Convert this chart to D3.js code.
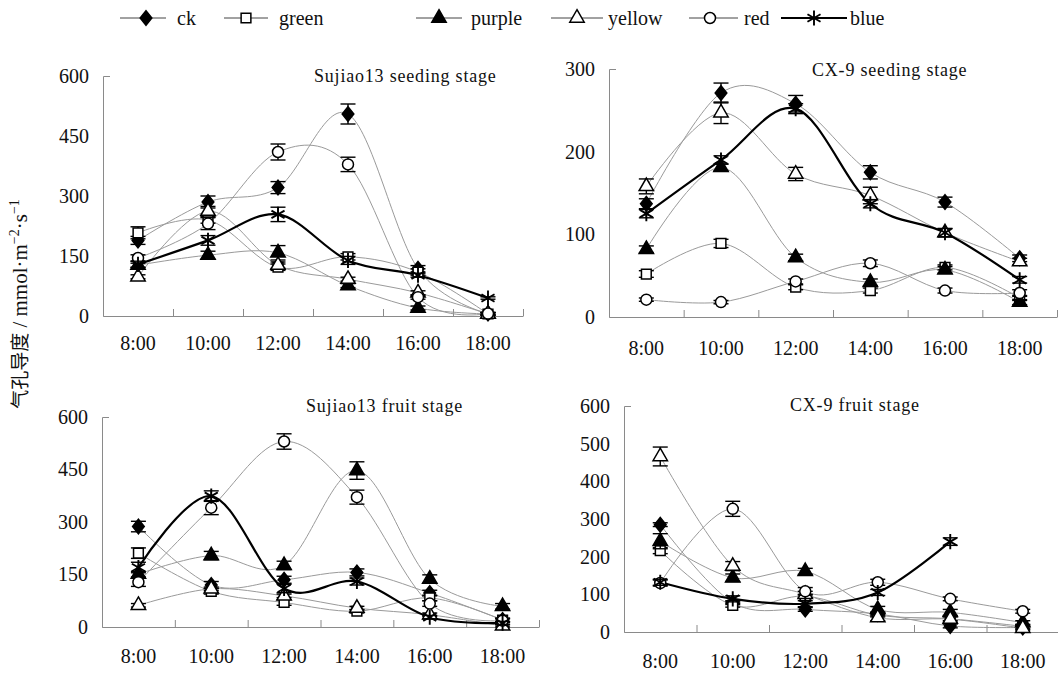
<!DOCTYPE html>
<html>
<head>
<meta charset="utf-8">
<script src="https://cdn.jsdelivr.net/npm/d3@7/dist/d3.min.js"></script>
<style>
body{margin:0;background:#fff}
svg{display:block}
</style>
</head>
<body>
<svg id="chart" width="1058" height="674"></svg>
<script>
// categories / series
var times = ["8:00","10:00","12:00","14:00","16:00","18:00"];
var seriesNames = ["ck","green","purple","yellow","red","blue"];
var titles = ["Sujiao13 seeding stage","CX-9 seeding stage","Sujiao13 fruit stage","CX-9 fruit stage"];
var ticks600a = [0,150,300,450,600];
var ticks300 = [0,100,200,300];
var ticks600b = [0,100,200,300,400,500,600];

// rows in seriesNames order: ck, green, purple, yellow, red, blue
var s13SeedMean = [
	[189,285,321,505,118,6],
	[208,240,122,148,110,5],
	[127,152,158,76,20,5],
	[98,262,127,92,58,5],
	[145,231,410,379,47,6],
	[129,189,254,139,102,45]
];
var s13SeedErr = [
	[10,15,15,25,8,3],
	[15,8,8,8,8,3],
	[5,10,18,5,5,3],
	[5,12,8,5,5,3],
	[8,15,20,18,5,3],
	[8,12,18,10,5,3]
];
var cxSeedMean = [
	[137,271,258,175,139,71],
	[52,89,36,32,60,23],
	[82,181,72,42,57,18],
	[158,247,173,147,102,67],
	[21,18,43,65,32,29],
	[125,190,252,137,102,45]
];
var cxSeedErr = [
	[6,12,10,8,6,4],
	[4,5,3,3,3,3],
	[4,4,4,4,4,3],
	[9,13,8,10,5,4],
	[2,2,3,4,3,4],
	[5,5,6,5,5,4]
];
var s13FruitMean = [
	[287,120,135,156,97,20],
	[211,102,70,45,83,20],
	[151,204,176,447,137,59],
	[62,109,89,54,35,3],
	[128,341,530,371,67,18],
	[170,374,110,130,28,11]
];
var s13FruitErr = [
	[15,10,10,10,8,5],
	[15,8,8,5,8,5],
	[8,12,12,25,12,8],
	[5,5,5,5,5,5],
	[12,20,22,20,8,5],
	[15,15,12,10,5,5]
];
var cxFruitMean = [
	[285,78,60,48,16,12],
	[216,71,95,45,35,15],
	[241,144,161,60,52,25],
	[466,175,100,38,34,10],
	[130,327,108,132,88,55],
	[132,88,75,105,240,null]
];
var cxFruitErr = [
	[5,5,5,5,5,5],
	[8,5,5,5,5,5],
	[20,10,8,8,8,5],
	[25,12,8,8,8,5],
	[8,20,10,8,5,5],
	[8,8,8,8,10,0]
];

// layout
var panels = [
	{title:titles[0], mean:s13SeedMean, err:s13SeedErr, yMax:600, yTicks:ticks600a, x0:103, x1:523, yTop:76, yBot:316, labY:34, tx:314, ty:82},
	{title:titles[1], mean:cxSeedMean, err:cxSeedErr, yMax:300, yTicks:ticks300, x0:609, x1:1057, yTop:69, yBot:317, labY:38, tx:812, ty:76},
	{title:titles[2], mean:s13FruitMean, err:s13FruitErr, yMax:600, yTicks:ticks600a, x0:102, x1:539, yTop:417, yBot:627, labY:36, tx:306, ty:412},
	{title:titles[3], mean:cxFruitMean, err:cxFruitErr, yMax:600, yTicks:ticks600b, x0:624, x1:1059, yTop:406, yBot:632, labY:36, tx:790, ty:411}
];

// wider diamond than d3's default
var diamondWide = {
	draw: function(ctx, size){
		var h = Math.sqrt(size / 1.6), w = h * 0.8;
		ctx.moveTo(0, -h); ctx.lineTo(w, 0); ctx.lineTo(0, h); ctx.lineTo(-w, 0); ctx.closePath();
	}
};
var shapes = [diamondWide, d3.symbolSquare, d3.symbolTriangle, d3.symbolTriangle, d3.symbolCircle, d3.symbolAsterisk];
var filled = [true,false,true,false,false,false];
var sizes = [85,95,90,90,95,160];
var legendPos = [
	{l0:120,l1:166,m:146,t:177},
	{l0:224,l1:268,m:246,t:279},
	{l0:416,l1:462,m:439,t:471},
	{l0:551,l1:603,m:577,t:608},
	{l0:689,l1:738,m:710,t:744},
	{l0:781,l1:847,m:814,t:850}
];
var serif = "'Liberation Serif', 'Times New Roman', serif";
var axisColor = "#8a8a8a", lineColor = "#9a9a9a";

var svg = d3.select("#chart");

function marker(sel, i){
	sel.append("path")
		.attr("d", d3.symbol().type(shapes[i]).size(sizes[i]))
		.attr("fill", filled[i] ? "#000" : "#fff")
		.attr("stroke", "#000")
		.attr("stroke-width", i==5 ? 1.9 : 1.5);
}

panels.forEach(function(p){
	var x = d3.scaleBand().domain(times).range([p.x0, p.x1]);
	var xb = d3.scaleLinear().domain([0,6]).range([p.x0, p.x1]);
	var y = d3.scaleLinear().domain([0,p.yMax]).range([p.yBot, p.yTop]);
	var cx = function(i){ return x(times[i]) + x.bandwidth()/2; };
	var g = svg.append("g");

	// x axis: boundary ticks pointing inward
	var xa = g.append("g").attr("transform","translate(0,"+p.yBot+")")
		.call(d3.axisBottom(xb).ticks(6).tickSize(-7).tickSizeOuter(0).tickFormat(""));
	xa.selectAll("path,line").attr("stroke", axisColor);

	// x labels
	var xl = g.append("g").attr("transform","translate(0,"+p.yBot+")")
		.call(d3.axisBottom(x).tickSize(0).tickPadding(p.labY - 14.2));
	xl.select(".domain").remove();
	xl.attr("font-family", null);
	xl.selectAll("text").style("font-family", serif).style("font-size","20px").attr("fill","#111");

	// y axis
	var ya = g.append("g").attr("transform","translate("+p.x0+",0)")
		.call(d3.axisLeft(y).tickValues(p.yTicks).tickSizeInner(0).tickSizeOuter(-7).tickPadding(14));
	ya.attr("font-family", null);
	ya.select(".domain").attr("stroke", axisColor);
	ya.selectAll("text").style("font-family", serif).style("font-size","20px").attr("fill","#111");

	// title
	g.append("text").attr("x",p.tx).attr("y",p.ty)
		.style("font-family", serif).style("font-size","18px")
		.attr("letter-spacing",0.8).attr("fill","#111")
		.text(p.title);

	// lines
	var line = d3.line()
		.defined(function(d){ return d != null; })
		.x(function(d,i){ return cx(i); })
		.y(function(d){ return y(d); })
		.curve(d3.curveCardinal.tension(0));
	p.mean.forEach(function(vals, si){
		g.append("path").datum(vals)
			.attr("fill","none")
			.attr("stroke", si==5 ? "#000" : lineColor)
			.attr("stroke-width", si==5 ? 2.2 : 1)
			.attr("d", line);
	});

	// error bars and markers
	p.mean.forEach(function(vals, si){
		vals.forEach(function(v, i){
			if (v == null) return;
			var e = p.err[si][i];
			var px = cx(i);
			if (e > 0) {
				var lo = y(Math.max(0, v - e)), hi = y(v + e);
				var eb = g.append("g").attr("stroke","#000").attr("stroke-width",1.4);
				eb.append("line").attr("x1",px).attr("x2",px).attr("y1",lo).attr("y2",hi);
				eb.append("line").attr("x1",px-7.5).attr("x2",px+7.5).attr("y1",hi).attr("y2",hi);
				eb.append("line").attr("x1",px-7.5).attr("x2",px+7.5).attr("y1",lo).attr("y2",lo);
			}
			marker(g.append("g").attr("transform","translate("+px+","+y(v)+")"), si);
		});
	});
});

// legend
var lg = svg.append("g");
seriesNames.forEach(function(name, i){
	var lp = legendPos[i];
	lg.append("line").attr("x1",lp.l0).attr("x2",lp.l1).attr("y1",18).attr("y2",18)
		.attr("stroke", i==5 ? "#000" : "#444").attr("stroke-width", i==5 ? 2.2 : 1);
	marker(lg.append("g").attr("transform","translate("+lp.m+",18)"), i);
	lg.append("text").attr("x",lp.t).attr("y",25)
		.style("font-family", serif).style("font-size","20px").attr("fill","#111").text(name);
});

// y axis title
var yt = svg.append("text").attr("transform","translate(27,304) rotate(-90)")
	.attr("text-anchor","middle").attr("fill","#111")
	.style("font-family", serif).style("font-size","21px");
yt.append("tspan").style("font-family","'Noto Sans CJK SC'").style("font-size","19px").text("气孔导度");
yt.append("tspan").text(" / mmol·m");
yt.append("tspan").style("font-size","14px").attr("dy",-8).text("−2");
yt.append("tspan").attr("dy",8).text("·s");
yt.append("tspan").style("font-size","14px").attr("dy",-8).text("−1");
</script>
</body>
</html>
